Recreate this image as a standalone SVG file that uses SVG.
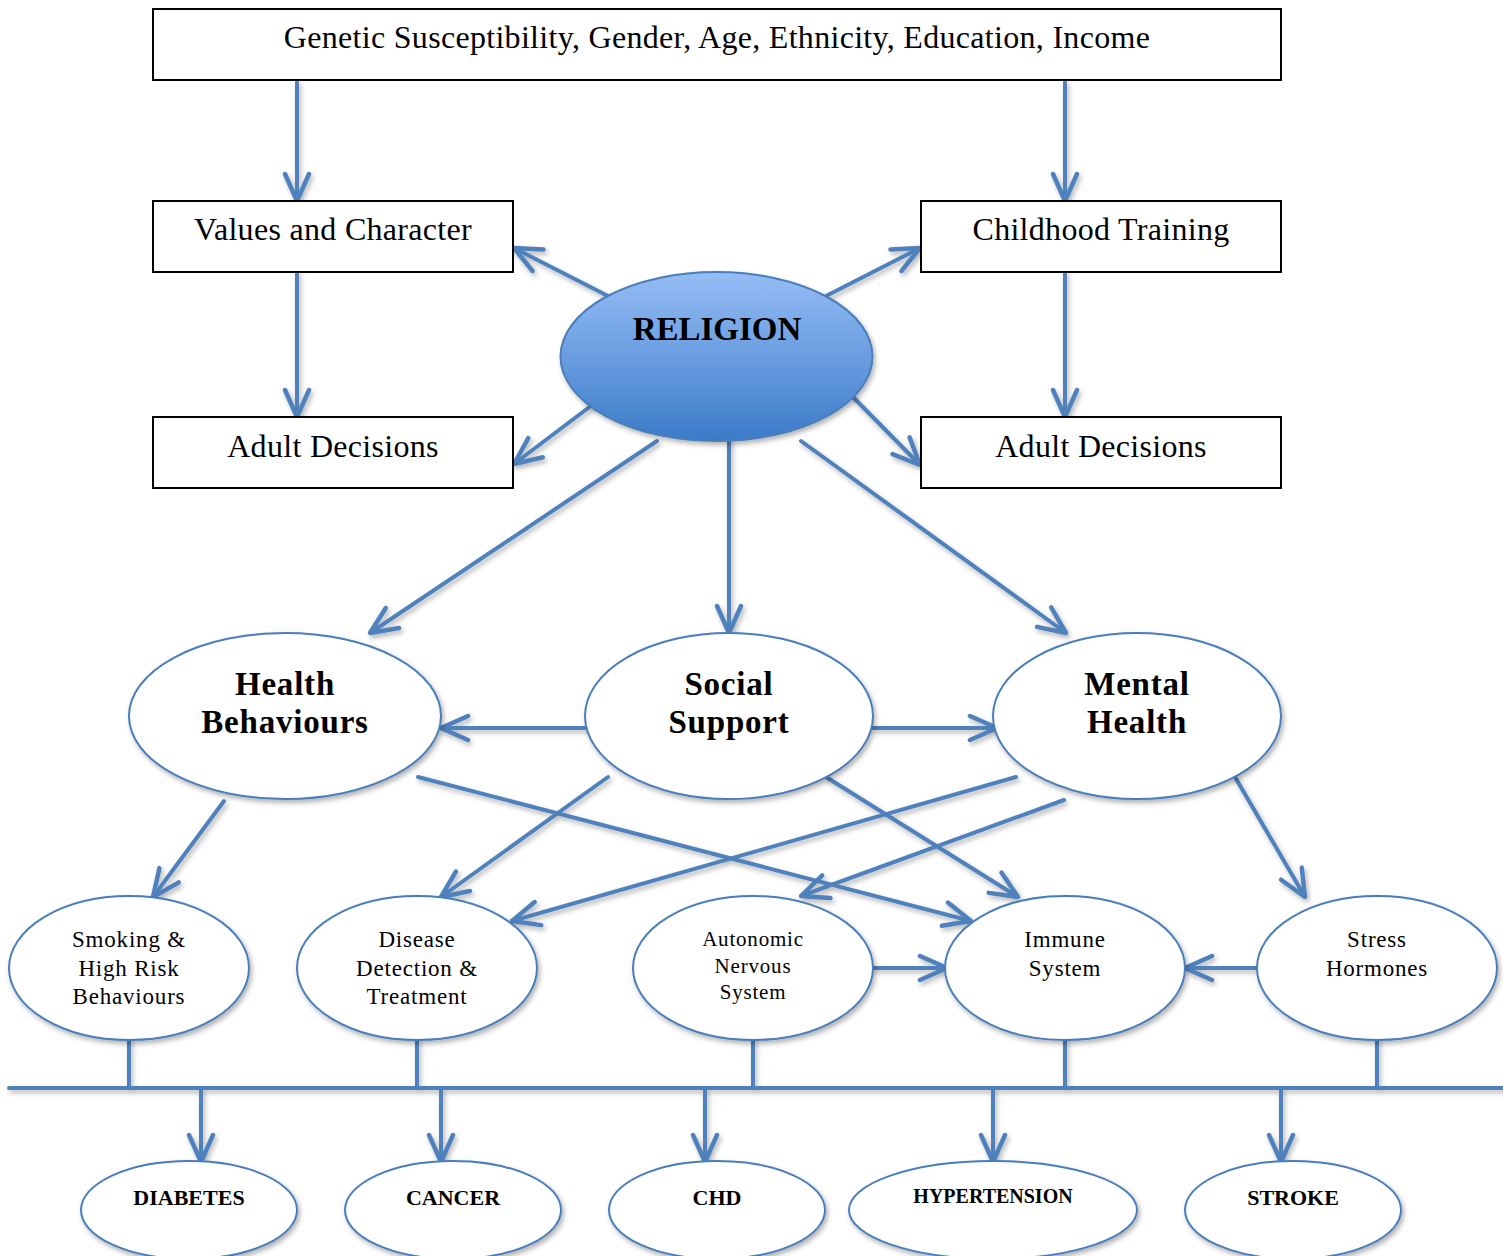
<svg xmlns="http://www.w3.org/2000/svg" width="1503" height="1256" viewBox="0 0 1503 1256">
<defs>
<linearGradient id="relGrad" x1="0" y1="0" x2="0" y2="1">
<stop offset="0" stop-color="#95bdf5"/>
<stop offset="0.5" stop-color="#6a9de0"/>
<stop offset="1" stop-color="#3b7bc8"/>
</linearGradient>
<filter id="sh" x="-20%" y="-20%" width="140%" height="150%">
<feDropShadow dx="2" dy="3" stdDeviation="2.5" flood-color="#000" flood-opacity="0.3"/>
</filter>
<marker id="ah" viewBox="0 0 32 32" refX="30" refY="16" markerUnits="userSpaceOnUse" markerWidth="32" markerHeight="32" orient="auto">
<path d="M3,4 L30,16 L3,28" fill="none" stroke="#4f81bd" stroke-width="4.5" stroke-linecap="round" stroke-linejoin="round"/>
</marker>
<style>
.box{fill:#fff;stroke:#000;stroke-width:2}
.ell{fill:#fff;stroke:#4a7ebb;stroke-width:2}
.t{font-family:"Liberation Serif","DejaVu Serif",serif;fill:#000;text-anchor:middle}
.big{font-size:32px;letter-spacing:0.3px}
.bold{font-weight:bold}
.mid{font-size:33px;font-weight:bold;letter-spacing:0.8px}
.sm{font-size:23px;letter-spacing:0.8px}
.xs{font-size:21px;letter-spacing:0.8px}
.dis{font-size:22px;font-weight:bold}
.c{fill:none;stroke:#4f81bd;stroke-width:4;stroke-linecap:round}
.a{marker-end:url(#ah)}
</style>
</defs>

<g id="connectors" filter="url(#sh)">
<path class="c a" d="M297,82 L297,201"/>
<path class="c a" d="M1065,82 L1065,201"/>
<path class="c a" d="M297,272 L297,417"/>
<path class="c a" d="M1065,272 L1065,417"/>
<path class="c a" d="M608,296 L514,248"/>
<path class="c a" d="M826,296 L920,248"/>
<path class="c a" d="M608,393 L514,464"/>
<path class="c a" d="M851,395 L920,465"/>
<path class="c a" d="M657,441 L370,633"/>
<path class="c a" d="M729,441 L729,633"/>
<path class="c a" d="M801,441 L1066,633"/>
<path class="c a" d="M585,728 L441,728"/>
<path class="c a" d="M873,728 L997,728"/>
<path class="c a" d="M224,801 L153,897"/>
<path class="c a" d="M608,777 L441,897"/>
<path class="c a" d="M418,777 L971,921"/>
<path class="c a" d="M826,777 L1018,897"/>
<path class="c a" d="M1016,777 L512,921"/>
<path class="c a" d="M1064,800 L801,896"/>
<path class="c a" d="M1235,777 L1305,897"/>
<path class="c a" d="M873,968 L947,968"/>
<path class="c a" d="M1257,968 L1185,968"/>
<path class="c" d="M9,1088 L1503,1088"/>
<path class="c" d="M129,1040 L129,1088"/>
<path class="c" d="M417,1040 L417,1088"/>
<path class="c" d="M753,1040 L753,1088"/>
<path class="c" d="M1065,1040 L1065,1088"/>
<path class="c" d="M1377,1040 L1377,1088"/>
<path class="c a" d="M201,1088 L201,1162"/>
<path class="c a" d="M441,1088 L441,1162"/>
<path class="c a" d="M705,1088 L705,1162"/>
<path class="c a" d="M993,1088 L993,1162"/>
<path class="c a" d="M1281,1088 L1281,1162"/>
</g>

<g id="top-factors">
<rect class="box" x="153" y="9" width="1128" height="71"/>
<text class="t big" x="717" y="48">Genetic Susceptibility, Gender, Age, Ethnicity, Education, Income</text>
</g>
<g id="values">
<rect class="box" x="153" y="201" width="360" height="71"/>
<text class="t big" x="333" y="240">Values and Character</text>
</g>
<g id="childhood">
<rect class="box" x="921" y="201" width="360" height="71"/>
<text class="t big" x="1101" y="240">Childhood Training</text>
</g>
<g id="adult-left">
<rect class="box" x="153" y="417" width="360" height="71"/>
<text class="t big" x="333" y="457">Adult Decisions</text>
</g>
<g id="adult-right">
<rect class="box" x="921" y="417" width="360" height="71"/>
<text class="t big" x="1101" y="457">Adult Decisions</text>
</g>

<g id="religion">
<ellipse cx="716.5" cy="356.5" rx="156" ry="84.5" fill="url(#relGrad)" stroke="#4a7ebb" stroke-width="2" filter="url(#sh)"/>
<text class="t bold" x="717" y="340" font-size="33">RELIGION</text>
</g>

<g id="health-behaviours">
<ellipse class="ell" cx="285" cy="716" rx="156" ry="83" filter="url(#sh)"/>
<text class="t mid" x="285" y="695">Health</text>
<text class="t mid" x="285" y="733">Behaviours</text>
</g>
<g id="social-support">
<ellipse class="ell" cx="729" cy="716" rx="144" ry="83" filter="url(#sh)"/>
<text class="t mid" x="729" y="695">Social</text>
<text class="t mid" x="729" y="733">Support</text>
</g>
<g id="mental-health">
<ellipse class="ell" cx="1137" cy="716" rx="144" ry="83" filter="url(#sh)"/>
<text class="t mid" x="1137" y="695">Mental</text>
<text class="t mid" x="1137" y="733">Health</text>
</g>

<g id="smoking">
<ellipse class="ell" cx="129" cy="968" rx="120" ry="72" filter="url(#sh)"/>
<text class="t sm" x="129" y="947">Smoking &amp;</text>
<text class="t sm" x="129" y="976">High Risk</text>
<text class="t sm" x="129" y="1004">Behaviours</text>
</g>
<g id="disease-detection">
<ellipse class="ell" cx="417" cy="968" rx="120" ry="72" filter="url(#sh)"/>
<text class="t sm" x="417" y="947">Disease</text>
<text class="t sm" x="417" y="976">Detection &amp;</text>
<text class="t sm" x="417" y="1004">Treatment</text>
</g>
<g id="autonomic">
<ellipse class="ell" cx="753" cy="968" rx="120" ry="72" filter="url(#sh)"/>
<text class="t xs" x="753" y="946">Autonomic</text>
<text class="t xs" x="753" y="973">Nervous</text>
<text class="t xs" x="753" y="999">System</text>
</g>
<g id="immune">
<ellipse class="ell" cx="1065" cy="968" rx="120" ry="72" filter="url(#sh)"/>
<text class="t sm" x="1065" y="947">Immune</text>
<text class="t sm" x="1065" y="976">System</text>
</g>
<g id="stress">
<ellipse class="ell" cx="1377" cy="968" rx="120" ry="72" filter="url(#sh)"/>
<text class="t sm" x="1377" y="947">Stress</text>
<text class="t sm" x="1377" y="976">Hormones</text>
</g>

<g id="diabetes">
<ellipse class="ell" cx="189" cy="1210" rx="108" ry="49" filter="url(#sh)"/>
<text class="t dis" x="189" y="1205">DIABETES</text>
</g>
<g id="cancer">
<ellipse class="ell" cx="453" cy="1210" rx="108" ry="49" filter="url(#sh)"/>
<text class="t dis" x="453" y="1205">CANCER</text>
</g>
<g id="chd">
<ellipse class="ell" cx="717" cy="1210" rx="108" ry="49" filter="url(#sh)"/>
<text class="t dis" x="717" y="1205">CHD</text>
</g>
<g id="hypertension">
<ellipse class="ell" cx="993" cy="1210" rx="144" ry="49" filter="url(#sh)"/>
<text class="t bold" x="993" y="1203" font-size="20">HYPERTENSION</text>
</g>
<g id="stroke">
<ellipse class="ell" cx="1293" cy="1210" rx="108" ry="49" filter="url(#sh)"/>
<text class="t dis" x="1293" y="1205">STROKE</text>
</g>
</svg>
